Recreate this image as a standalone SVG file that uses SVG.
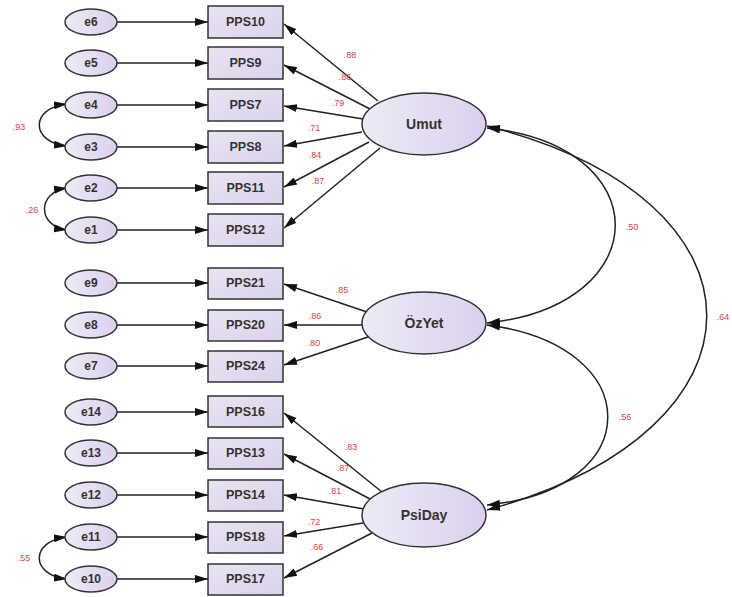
<svg xmlns="http://www.w3.org/2000/svg" width="732" height="597" viewBox="0 0 732 597">
<defs>
<linearGradient id="gl" x1="0" y1="0" x2="1" y2="0"><stop offset="0" stop-color="#ecebf6"/><stop offset="1" stop-color="#dcd0ee"/></linearGradient>
<linearGradient id="gb" x1="0" y1="0" x2="1" y2="1"><stop offset="0" stop-color="#e8e4f2"/><stop offset="1" stop-color="#dcd2ec"/></linearGradient>
<marker id="ah" markerUnits="userSpaceOnUse" markerWidth="14" markerHeight="10" refX="13" refY="5" orient="auto-start-reverse"><path d="M0,1 L13,5 L0,9 Z" fill="#111"/></marker>
</defs>
<style>
.err ellipse{fill:url(#gl);stroke:#333;stroke-width:1.5}
.lat ellipse{fill:url(#gl);stroke:#333;stroke-width:1.5}
.obs rect{fill:url(#gb);stroke:#333;stroke-width:1.5}
text{font-family:"Liberation Sans",Arial,sans-serif;text-anchor:middle;dominant-baseline:central}
.err text{font-size:12px;fill:#333;font-weight:bold}
.obs text{font-size:12.5px;fill:#333;font-weight:bold}
.lat text{font-size:14px;fill:#333;font-weight:bold}
.lbl{font-size:9px;fill:#e04040}
#connectors path,#connectors line{stroke:#222;stroke-width:1.5;fill:none}
</style>
<rect width="732" height="597" fill="#fff"/>
<g id="connectors">
<line x1="117" y1="22" x2="208" y2="22" marker-end="url(#ah)"/>
<line x1="117" y1="63" x2="208" y2="63" marker-end="url(#ah)"/>
<line x1="117" y1="105" x2="208" y2="105" marker-end="url(#ah)"/>
<line x1="117" y1="147" x2="208" y2="147" marker-end="url(#ah)"/>
<line x1="117" y1="188" x2="208" y2="188" marker-end="url(#ah)"/>
<line x1="117" y1="230" x2="208" y2="230" marker-end="url(#ah)"/>
<line x1="117" y1="283" x2="208" y2="283" marker-end="url(#ah)"/>
<line x1="117" y1="325" x2="208" y2="325" marker-end="url(#ah)"/>
<line x1="117" y1="366" x2="208" y2="366" marker-end="url(#ah)"/>
<line x1="117" y1="412" x2="208" y2="412" marker-end="url(#ah)"/>
<line x1="117" y1="453" x2="208" y2="453" marker-end="url(#ah)"/>
<line x1="117" y1="495" x2="208" y2="495" marker-end="url(#ah)"/>
<line x1="117" y1="537" x2="208" y2="537" marker-end="url(#ah)"/>
<line x1="117" y1="579" x2="208" y2="579" marker-end="url(#ah)"/>
<line x1="378" y1="101" x2="284" y2="24" marker-end="url(#ah)"/>
<line x1="370" y1="109" x2="284" y2="65" marker-end="url(#ah)"/>
<line x1="363" y1="119" x2="284" y2="106" marker-end="url(#ah)"/>
<line x1="362" y1="132" x2="284" y2="146" marker-end="url(#ah)"/>
<line x1="369" y1="142" x2="284" y2="187" marker-end="url(#ah)"/>
<line x1="380" y1="148" x2="284" y2="228" marker-end="url(#ah)"/>
<line x1="367" y1="312" x2="284" y2="284" marker-end="url(#ah)"/>
<line x1="362" y1="325" x2="284" y2="325" marker-end="url(#ah)"/>
<line x1="368" y1="337" x2="284" y2="365" marker-end="url(#ah)"/>
<line x1="382" y1="492" x2="284" y2="413" marker-end="url(#ah)"/>
<line x1="372" y1="500" x2="284" y2="454" marker-end="url(#ah)"/>
<line x1="364" y1="509" x2="284" y2="495" marker-end="url(#ah)"/>
<line x1="363" y1="523" x2="284" y2="536" marker-end="url(#ah)"/>
<line x1="372" y1="533" x2="284" y2="578" marker-end="url(#ah)"/>
<path d="M487,128 C658,145 658,305 487,323" marker-start="url(#ah)" marker-end="url(#ah)"/>
<path d="M487,126 C780,200 780,430 487,510" marker-start="url(#ah)" marker-end="url(#ah)"/>
<path d="M487,325 C648,345 648,490 487,505" marker-start="url(#ah)" marker-end="url(#ah)"/>
<path d="M67,104 C30,108 30,142 67,146" marker-start="url(#ah)" marker-end="url(#ah)"/>
<path d="M67,188 C37,192 37,226 67,230" marker-start="url(#ah)" marker-end="url(#ah)"/>
<path d="M67,537 C30,541 30,575 67,579" marker-start="url(#ah)" marker-end="url(#ah)"/>
</g>
<g id="e6" class="err"><ellipse cx="91" cy="22" rx="26" ry="13"/><text x="91" y="22">e6</text></g>
<g id="e5" class="err"><ellipse cx="91" cy="63" rx="26" ry="13"/><text x="91" y="63">e5</text></g>
<g id="e4" class="err"><ellipse cx="91" cy="105" rx="26" ry="13"/><text x="91" y="105">e4</text></g>
<g id="e3" class="err"><ellipse cx="91" cy="147" rx="26" ry="13"/><text x="91" y="147">e3</text></g>
<g id="e2" class="err"><ellipse cx="91" cy="188" rx="26" ry="13"/><text x="91" y="188">e2</text></g>
<g id="e1" class="err"><ellipse cx="91" cy="230" rx="26" ry="13"/><text x="91" y="230">e1</text></g>
<g id="e9" class="err"><ellipse cx="91" cy="283" rx="26" ry="13"/><text x="91" y="283">e9</text></g>
<g id="e8" class="err"><ellipse cx="91" cy="325" rx="26" ry="13"/><text x="91" y="325">e8</text></g>
<g id="e7" class="err"><ellipse cx="91" cy="366" rx="26" ry="13"/><text x="91" y="366">e7</text></g>
<g id="e14" class="err"><ellipse cx="91" cy="412" rx="26" ry="13"/><text x="91" y="412">e14</text></g>
<g id="e13" class="err"><ellipse cx="91" cy="453" rx="26" ry="13"/><text x="91" y="453">e13</text></g>
<g id="e12" class="err"><ellipse cx="91" cy="495" rx="26" ry="13"/><text x="91" y="495">e12</text></g>
<g id="e11" class="err"><ellipse cx="91" cy="537" rx="26" ry="13"/><text x="91" y="537">e11</text></g>
<g id="e10" class="err"><ellipse cx="91" cy="579" rx="26" ry="13"/><text x="91" y="579">e10</text></g>
<g id="PPS10" class="obs"><rect x="208" y="6" width="75" height="32"/><text x="245.5" y="22">PPS10</text></g>
<g id="PPS9" class="obs"><rect x="208" y="47" width="75" height="32"/><text x="245.5" y="63">PPS9</text></g>
<g id="PPS7" class="obs"><rect x="208" y="89" width="75" height="32"/><text x="245.5" y="105">PPS7</text></g>
<g id="PPS8" class="obs"><rect x="208" y="131" width="75" height="32"/><text x="245.5" y="147">PPS8</text></g>
<g id="PPS11" class="obs"><rect x="208" y="172" width="75" height="32"/><text x="245.5" y="188">PPS11</text></g>
<g id="PPS12" class="obs"><rect x="208" y="214" width="75" height="32"/><text x="245.5" y="230">PPS12</text></g>
<g id="PPS21" class="obs"><rect x="208" y="268" width="75" height="31"/><text x="245.5" y="283">PPS21</text></g>
<g id="PPS20" class="obs"><rect x="208" y="310" width="75" height="31"/><text x="245.5" y="325">PPS20</text></g>
<g id="PPS24" class="obs"><rect x="208" y="351" width="75" height="31"/><text x="245.5" y="366">PPS24</text></g>
<g id="PPS16" class="obs"><rect x="208" y="396" width="75" height="31"/><text x="245.5" y="412">PPS16</text></g>
<g id="PPS13" class="obs"><rect x="208" y="438" width="75" height="31"/><text x="245.5" y="453">PPS13</text></g>
<g id="PPS14" class="obs"><rect x="208" y="480" width="75" height="31"/><text x="245.5" y="495">PPS14</text></g>
<g id="PPS18" class="obs"><rect x="208" y="522" width="75" height="31"/><text x="245.5" y="537">PPS18</text></g>
<g id="PPS17" class="obs"><rect x="208" y="564" width="75" height="31"/><text x="245.5" y="579">PPS17</text></g>
<g id="Umut" class="lat"><ellipse cx="424" cy="124" rx="62" ry="31"/><text x="424" y="124">Umut</text></g>
<g id="OzYet" class="lat"><ellipse cx="424" cy="323" rx="62" ry="31"/><text x="424" y="323">ÖzYet</text></g>
<g id="PsiDay" class="lat"><ellipse cx="424" cy="515" rx="62" ry="32"/><text x="424" y="515">PsiDay</text></g>
<g id="labels">
<text class="lbl" x="350" y="55">.88</text>
<text class="lbl" x="345" y="77">.86</text>
<text class="lbl" x="338" y="103">.79</text>
<text class="lbl" x="314" y="128">.71</text>
<text class="lbl" x="315" y="155">.84</text>
<text class="lbl" x="318" y="181">.87</text>
<text class="lbl" x="342" y="290">.85</text>
<text class="lbl" x="315" y="316">.86</text>
<text class="lbl" x="314" y="343">.80</text>
<text class="lbl" x="351" y="447">.83</text>
<text class="lbl" x="343" y="468">.87</text>
<text class="lbl" x="335" y="491">.81</text>
<text class="lbl" x="314" y="522">.72</text>
<text class="lbl" x="317" y="547">.66</text>
<text class="lbl" x="632" y="227">.50</text>
<text class="lbl" x="723" y="317">.64</text>
<text class="lbl" x="625" y="417">.56</text>
<text class="lbl" x="19" y="127">.93</text>
<text class="lbl" x="32" y="210">.26</text>
<text class="lbl" x="24" y="558">.55</text>
</g>
</svg>
